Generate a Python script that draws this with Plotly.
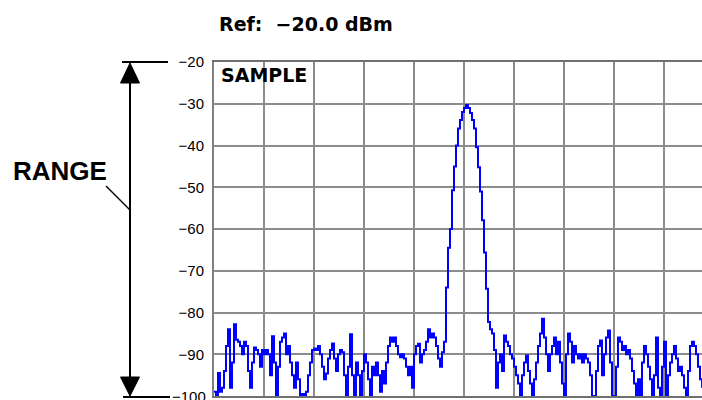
import plotly.graph_objects as go

# ---- data ----
ref_level_dbm = -20.0
y_bottom_dbm = -100.0
y_tick_vals = [-20, -30, -40, -50, -60, -70, -80, -90]
y_tick_text = ["\u221220", "\u221230", "\u221240", "\u221250", "\u221260",
               "\u221270", "\u221280", "\u221290"]
y_bottom_label = "\u2212100"

# sweep bins, 0.04 division apart, starting at the left edge of the screen
bin_width_div = 0.04
level_dbm = [
    -99, -100, -94.5, -99, -98, -94, -88, -84, -98, -92,
    -82.8, -86.5, -87, -88, -90, -87, -88, -94, -98, -92,
    -88.4, -89, -90, -93, -89, -90, -89, -90, -95, -85.7,
    -92, -100, -93, -87, -86, -85, -90, -88, -92, -95,
    -98, -92, -96, -100, -99.5, -100, -99, -95, -92, -89,
    -88.6, -89, -88, -90, -93, -96, -94.6, -91, -89, -87.4,
    -91, -94, -90, -89, -89.5, -95, -100, -93, -85.2, -95,
    -100, -92, -95, -100, -94, -90, -92, -96, -100, -93,
    -95, -92, -95, -99, -94, -97, -92, -88, -86, -87,
    -86, -88, -90, -90.7, -90, -91, -93, -95, -93, -98,
    -90, -88, -87.5, -92, -90, -89, -87, -84, -86, -85,
    -86, -88, -91, -93, -89.5, -87, -74, -64.5, -60, -50.7,
    -45, -40, -35.9, -33.9, -32, -31, -30.3, -31, -32.2, -33.9,
    -35.9, -40.4, -45.2, -51, -57.9, -65.6, -74.3, -82.3, -84, -85,
    -89, -98, -92, -90, -94, -85.5, -87, -88, -90, -91,
    -93, -95, -97, -100, -95, -92, -90.3, -94, -97, -100,
    -96, -92, -88, -85, -81.5, -86, -90, -94, -90, -88,
    -86, -90, -87, -92, -97, -100, -90, -85, -87, -92,
    -88, -90, -91, -90, -92, -90, -91, -92, -95, -100,
    -100, -94, -88, -86.7, -95, -90, -86, -84.3, -92, -100,
    -100, -93, -86, -87, -89, -88, -90, -89, -91, -94,
    -97, -100, -96, -100, -92, -88, -90, -93, -96, -100,
    -95, -86, -98, -100, -93, -87, -100, -95, -92, -90,
    -88, -91, -94, -93, -95, -98, -100, -94, -88, -87,
    -88, -90, -93, -96, -98,
]
sweep_div = [i * bin_width_div for i in range(len(level_dbm))]

# ---- layout geometry (window pixels; page body margin removed below) ----
W, H = 702, 400
L, T, B, R = 214, 62, 4, 0
plot_w = W - L - R
plot_h = H - T - B


def px(xw):
    return (xw - L) / plot_w


def py(yw):
    return (H - B - yw) / plot_h


fig = go.Figure()
fig.add_trace(go.Scatter(
    x=sweep_div, y=level_dbm, mode="lines",
    line=dict(color="#0000ff", width=2, shape="hv"),
    hoverinfo="skip", showlegend=False,
))

grid_col = "#8c8c8c"
tick_font = dict(family="Liberation Sans, Arial, sans-serif", size=15, color="#000")
fig.update_xaxes(
    range=[0, plot_w / 50.0], dtick=1, tick0=0,
    showgrid=True, gridcolor=grid_col, gridwidth=2,
    showticklabels=False, ticks="", zeroline=False,
    showline=True, linecolor="#707070", linewidth=2, mirror=True,
)
fig.update_yaxes(
    range=[y_bottom_dbm, ref_level_dbm],
    tickvals=y_tick_vals, ticktext=y_tick_text,
    showgrid=True, gridcolor=grid_col, gridwidth=2,
    ticks="", ticklabelstandoff=5, zeroline=False,
    showline=True, linecolor="#808080", linewidth=2, mirror=False,
    tickfont=tick_font,
)

shapes = []
line_black = dict(color="#000", width=2)
shapes.append(dict(type="line", xref="paper", yref="paper",
                   x0=px(130), x1=px(130), y0=py(80), y1=py(380), line=line_black))
shapes.append(dict(type="line", xref="paper", yref="paper",
                   x0=px(122), x1=px(168), y0=py(62), y1=py(62), line=line_black))
shapes.append(dict(type="line", xref="paper", yref="paper",
                   x0=px(123), x1=px(170), y0=py(397), y1=py(397), line=line_black))


def tri(xa, ya, xb, yb, xc, yc):
    return dict(type="path", xref="paper", yref="paper",
                path=f"M {px(xa)} {py(ya)} L {px(xb)} {py(yb)} L {px(xc)} {py(yc)} Z",
                fillcolor="#000", line=dict(color="#000", width=1))


shapes.append(tri(130, 63, 120.5, 83, 139.5, 83))
shapes.append(tri(130, 396, 120.5, 377, 139.5, 377))
shapes.append(dict(type="line", xref="paper", yref="paper",
                   x0=px(106), x1=px(130), y0=py(186), y1=py(210),
                   line=dict(color="#000", width=1.5)))

annotations = [
    dict(text="<b>RANGE</b>", xref="paper", yref="paper", x=px(11), y=py(171),
         xanchor="left", yanchor="middle", showarrow=False,
         font=dict(family="Liberation Sans, Arial, sans-serif", size=26, color="#000")),
    dict(text="<b>Ref:  \u221220.0 dBm</b>", xref="paper", yref="paper",
         x=px(217), y=py(24), xanchor="left", yanchor="middle", showarrow=False,
         font=dict(family="DejaVu Sans, sans-serif", size=19, color="#000")),
    dict(text="<b>SAMPLE</b>", xref="paper", yref="paper",
         x=px(219), y=py(75), xanchor="left", yanchor="middle", showarrow=False,
         font=dict(family="DejaVu Sans, sans-serif", size=19, color="#000")),
    dict(text=y_bottom_label, xref="paper", yref="y",
         x=px(208), y=y_bottom_dbm, xanchor="right", yanchor="middle",
         showarrow=False, font=tick_font),
]

fig.update_layout(
    width=W, height=H,
    margin=dict(l=L, r=R, t=T, b=B, pad=0),
    paper_bgcolor="#ffffff", plot_bgcolor="#ffffff",
    shapes=shapes, annotations=annotations,
)

fig.write_html(
    "out.html",
    config={"displayModeBar": False, "staticPlot": True},
    post_script="document.body.style.margin='0';"
                "document.body.style.overflow='hidden';"
                "document.documentElement.style.overflow='hidden';",
)
